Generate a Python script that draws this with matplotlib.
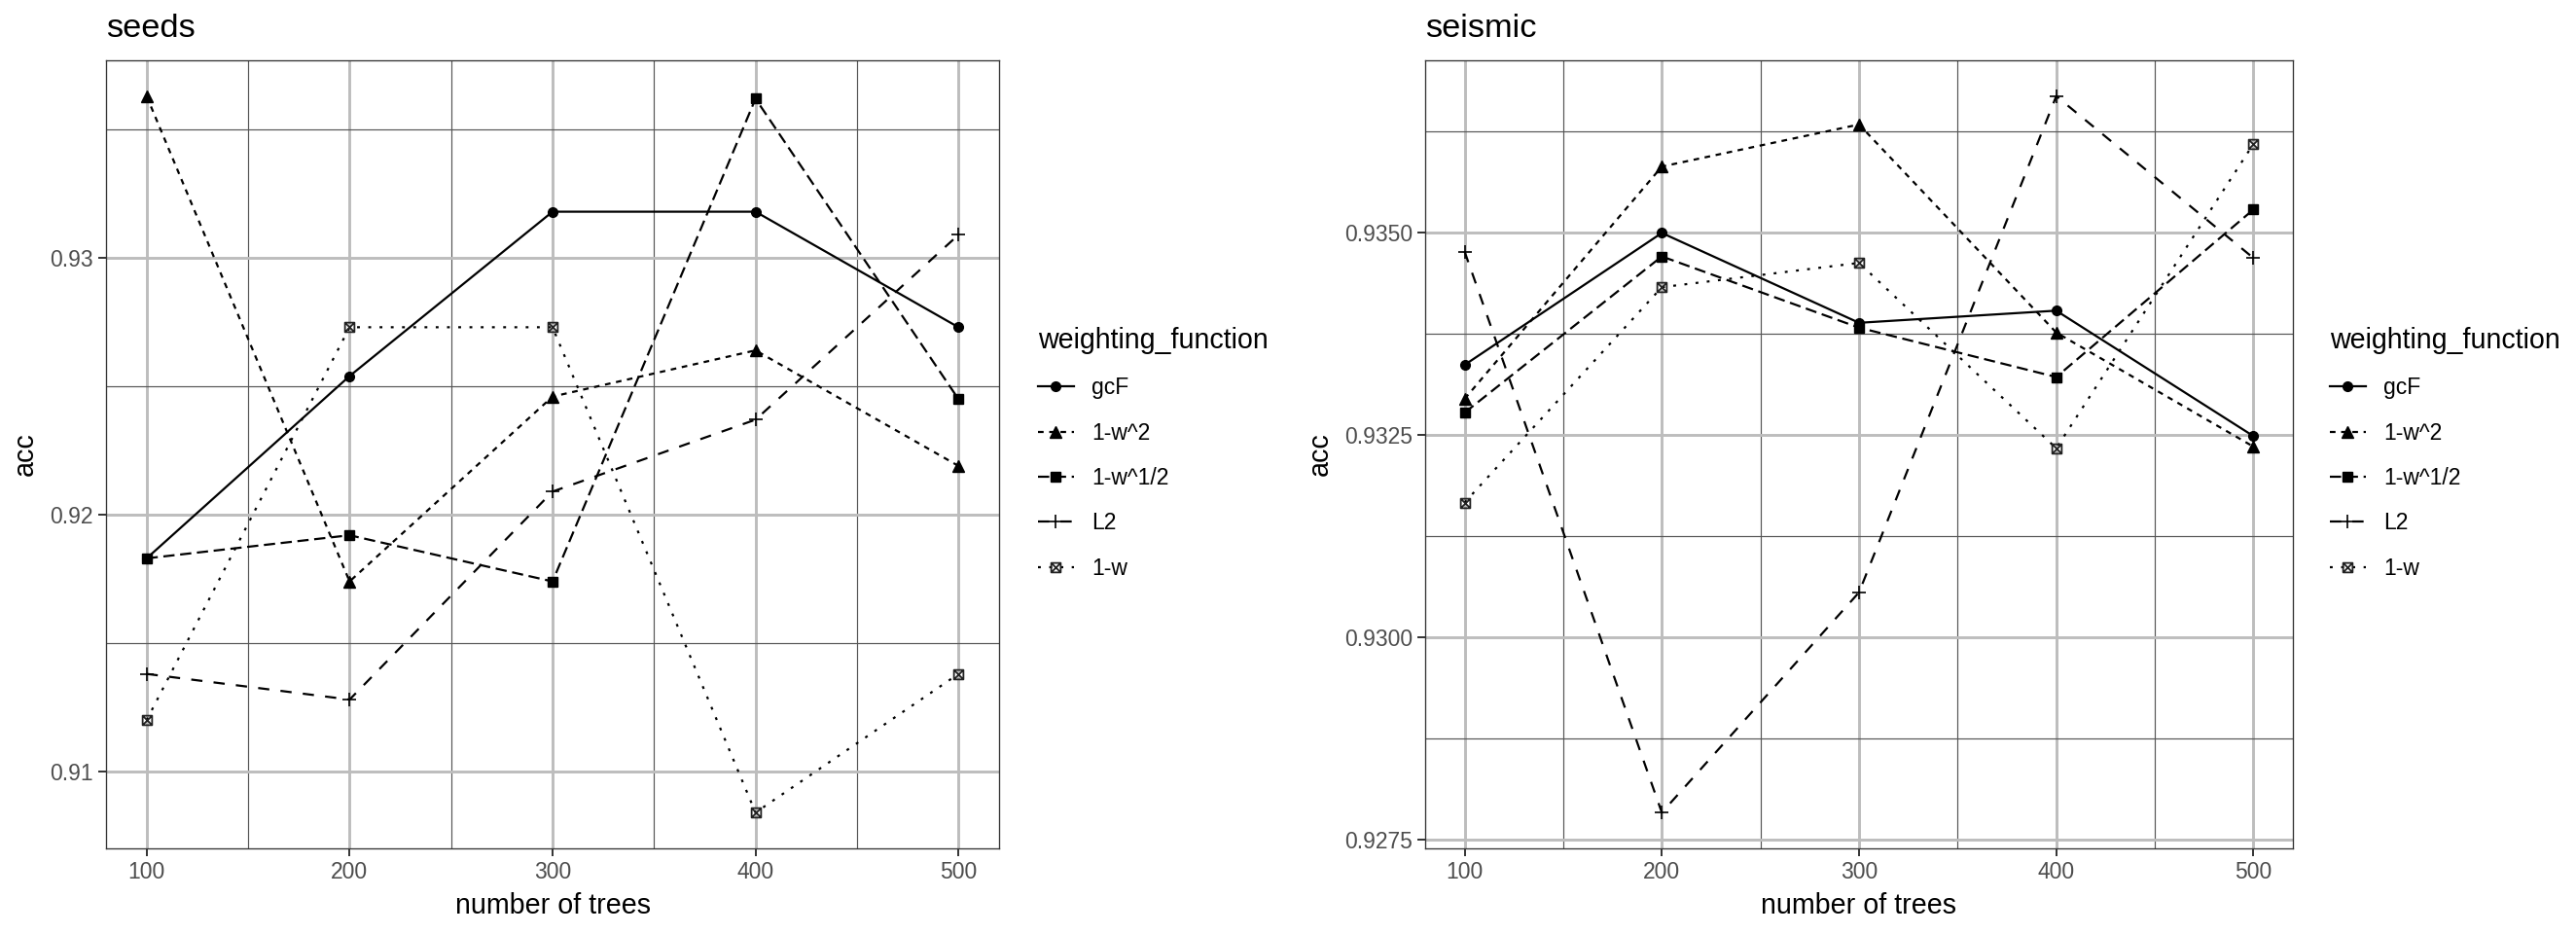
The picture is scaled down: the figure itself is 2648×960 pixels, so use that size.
import numpy as np
import matplotlib
matplotlib.use("Agg")
import matplotlib.pyplot as plt
from matplotlib.path import Path
from matplotlib.ticker import FixedLocator, FormatStrFormatter

plt.rcParams["font.family"] = ["Liberation Sans", "DejaVu Sans"]

# Data
trees = [100, 200, 300, 400, 500]
series_names = ["gcF", "1-w^2", "1-w^1/2", "L2", "1-w"]

seeds_gcF = [0.9183, 0.9254, 0.9318, 0.9318, 0.9273]
seeds_w2 = [0.9363, 0.9174, 0.9246, 0.9264, 0.9219]
seeds_wsqrt = [0.9183, 0.9192, 0.9174, 0.9362, 0.9245]
seeds_L2 = [0.9138, 0.9128, 0.9209, 0.9237, 0.9309]
seeds_w = [0.9120, 0.9273, 0.9273, 0.9084, 0.9138]

seismic_gcF = [0.93337, 0.93500, 0.93389, 0.93404, 0.93249]
seismic_w2 = [0.93295, 0.93582, 0.93634, 0.93377, 0.93236]
seismic_wsqrt = [0.93278, 0.93471, 0.93383, 0.93322, 0.93529]
seismic_L2 = [0.93477, 0.92784, 0.93056, 0.93669, 0.93469]
seismic_w = [0.93167, 0.93433, 0.93463, 0.93234, 0.93610]

seeds_yticks = [0.91, 0.92, 0.93]
seeds_yminor = [0.915, 0.925, 0.935]
seismic_yticks = [0.9275, 0.9300, 0.9325, 0.9350]
seismic_yminor = [0.92875, 0.93125, 0.93375, 0.93625]
x_minor = [150, 250, 350, 450]

# boxed cross marker (ggplot shape 7)
box_x = Path(
    [(-1, -1), (1, -1), (1, 1), (-1, 1), (-1, -1),
     (-1, -1), (1, 1), (-1, 1), (1, -1)],
    [Path.MOVETO, Path.LINETO, Path.LINETO, Path.LINETO, Path.CLOSEPOLY,
     Path.MOVETO, Path.LINETO, Path.MOVETO, Path.LINETO],
)

lw = 1.6
u = 1.3  # dash unit, in line widths
styles = {
    "gcF": dict(linestyle="-", marker="o", markersize=7),
    "1-w^2": dict(linestyle=(0, (2 * u, 2 * u)), marker="^", markersize=8.5),
    "1-w^1/2": dict(linestyle=(0, (4 * u, 2 * u)), marker="s", markersize=6.5),
    "L2": dict(linestyle=(0, (4 * u, 4 * u)), marker="+", markersize=10, markeredgewidth=1.2),
    "1-w": dict(linestyle=(0, (1 * u, 3 * u)), marker=box_x, markersize=7,
                markerfacecolor="none", markeredgewidth=1.3, markeredgecolor="#222222"),
}

W, H = 2648, 960
fig = plt.figure(figsize=(W / 100, H / 100), dpi=100)

panels = [
    ("seeds", [seeds_gcF, seeds_w2, seeds_wsqrt, seeds_L2, seeds_w],
     seeds_yticks, seeds_yminor, "%.2f", (109, 1027), 1067),
    ("seismic", [seismic_gcF, seismic_w2, seismic_wsqrt, seismic_L2, seismic_w],
     seismic_yticks, seismic_yminor, "%.4f", (1465, 2357), 2395),
]

top_px, bottom_px = 62, 872

for title, values, yt, ym, fmt, (x0, x1), leg_x in panels:
    ax = fig.add_axes([x0 / W, (H - bottom_px) / H, (x1 - x0) / W, (bottom_px - top_px) / H])
    for name, vals in zip(series_names, values):
        ax.plot(trees, vals, color="black", linewidth=lw, label=name,
                dash_capstyle="butt", **styles[name])
    ax.margins(x=0.05, y=0.05)

    ax.xaxis.set_major_locator(FixedLocator(trees))
    ax.xaxis.set_minor_locator(FixedLocator(x_minor))
    ax.yaxis.set_major_locator(FixedLocator(yt))
    ax.yaxis.set_minor_locator(FixedLocator(ym))
    ax.yaxis.set_major_formatter(FormatStrFormatter(fmt))

    ax.set_axisbelow(True)
    ax.grid(which="major", color="#bdbdbd", linewidth=2.1)
    ax.grid(which="minor", color="#555555", linewidth=0.85)
    ax.tick_params(which="major", length=5.5, width=1.4, color="#333333",
                   labelsize=16.5, labelcolor="#4d4d4d", pad=4)
    ax.tick_params(which="minor", length=0)
    for sp in ax.spines.values():
        sp.set_color("#333333")
        sp.set_linewidth(0.95)

    ax.set_title(title, loc="left", fontsize=24.75, pad=17.5)
    ax.set_xlabel("number of trees", fontsize=20.6, labelpad=6)
    ax.set_ylabel("acc", fontsize=20.6, labelpad=8)

    ax.legend(loc="upper left", bbox_to_anchor=(leg_x / W, (H - 336) / H),
              bbox_transform=fig.transFigure, frameon=False, title="weighting_function",
              title_fontsize=20.6, fontsize=16.5, alignment="left", borderpad=0,
              borderaxespad=0, handlelength=1.6, handletextpad=0.8, labelspacing=1.02,
              numpoints=1)

fig.savefig("out.png", dpi=100)
